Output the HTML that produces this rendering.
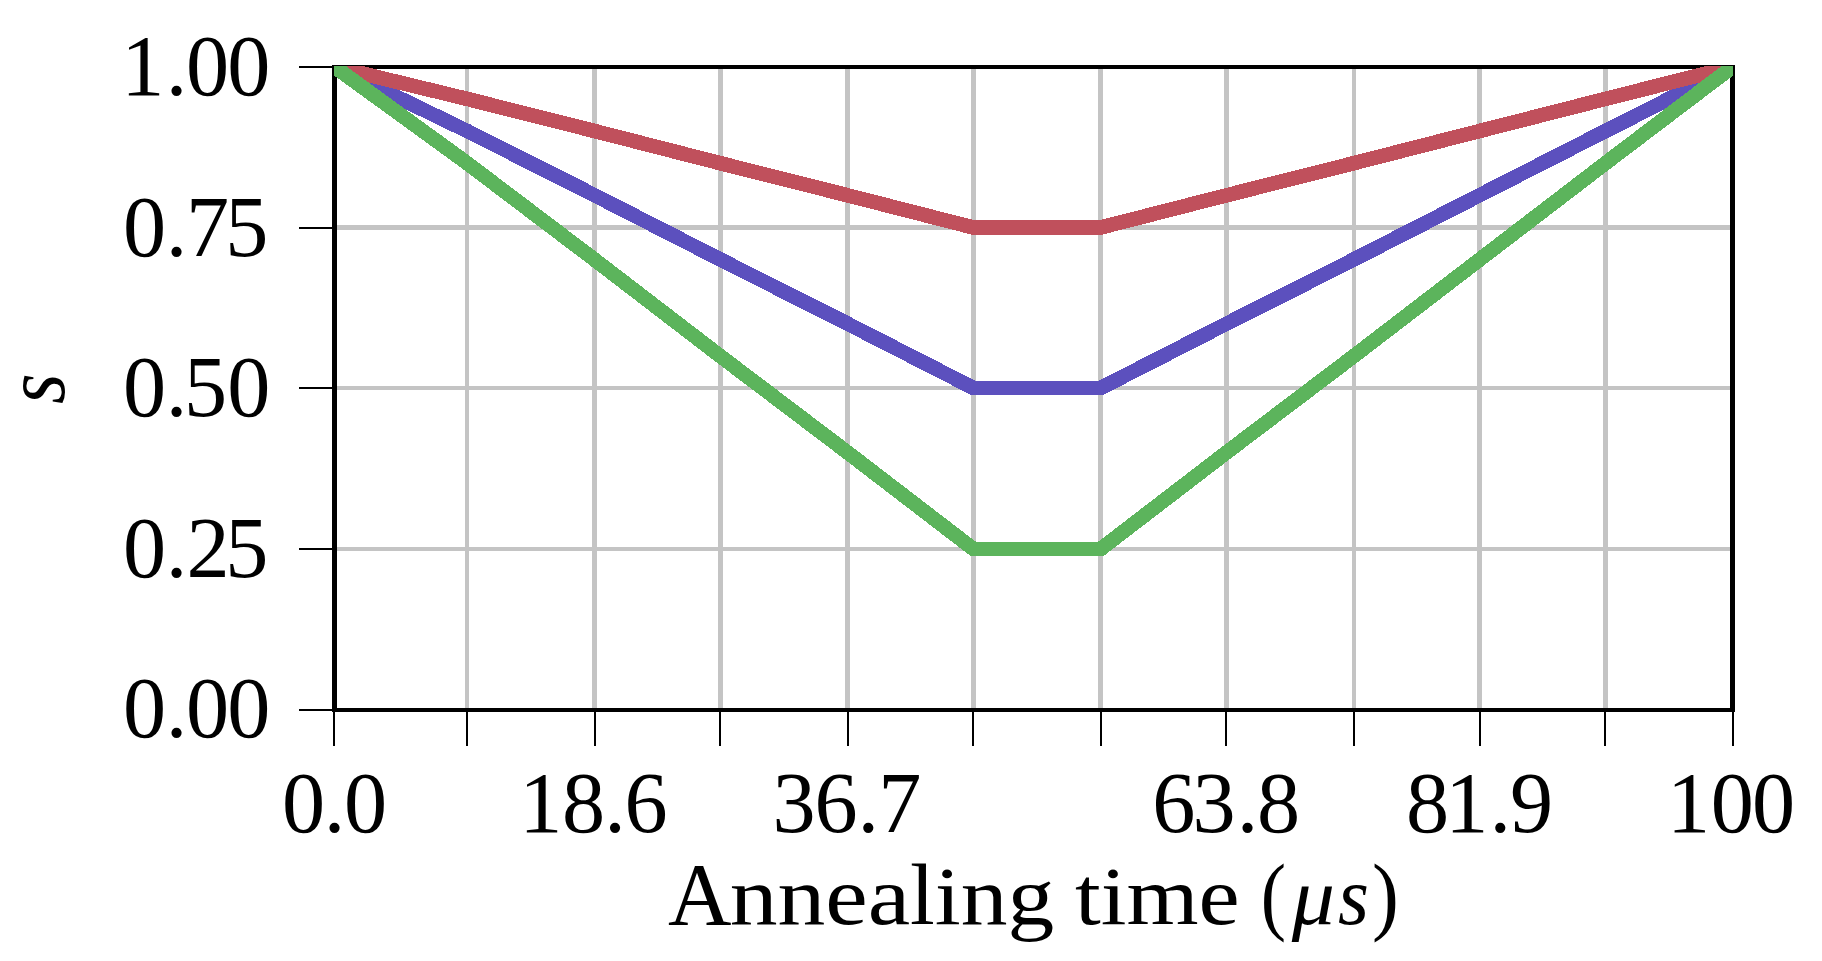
<!DOCTYPE html>
<html lang="en"><head><meta charset="utf-8"><title>Annealing schedule</title>
<style>html,body{margin:0;padding:0;background:#fff}svg{display:block}text{font-family:"Liberation Serif",serif;fill:#000}</style></head><body>
<svg width="1822" height="961" viewBox="0 0 1822 961">
<rect width="1822" height="961" fill="#fff"/>
<g shape-rendering="crispEdges">
<path d="M465 69H469V708H465ZM592 69H597V708H592ZM718 69H723V708H718ZM845 69H850V708H845ZM971 69H976V708H971ZM1098 69H1103V708H1098ZM1224 69H1229V708H1224ZM1352 69H1356V708H1352ZM1477 69H1482V708H1477ZM1603 69H1608V708H1603ZM337 225H1730V230H337ZM337 386H1730V390H337ZM337 547H1730V551H337Z" fill="#c4c4c4"/>
<path d="M332 65H337V712H332ZM1730 65H1735V712H1730ZM332 65H1735V69H332ZM332 708H1735V712H332ZM333 712H335V746H333ZM466 712H468V746H466ZM594 712H596V746H594ZM719 712H721V746H719ZM847 712H849V746H847ZM972 712H974V746H972ZM1100 712H1102V746H1100ZM1225 712H1227V746H1225ZM1353 712H1355V746H1353ZM1479 712H1481V746H1479ZM1604 712H1606V746H1604ZM1732 712H1734V746H1732ZM299 66H332V68H299ZM299 227H332V229H299ZM299 387H332V389H299ZM299 548H332V550H299ZM299 709H332V711H299Z" fill="#000"/>
<defs><clipPath id="ax"><rect x="334" y="66" width="1399" height="644"/></clipPath></defs>
<g clip-path="url(#ax)">
<polyline points="334.4,66.7 467.2,131.0 594.5,195.2 720.3,259.5 847.6,323.7 973.4,388.0 1100.7,388.0 1226.5,323.7 1353.8,259.5 1479.6,195.2 1605.5,131.0 1732.7,66.7" fill="none" stroke="#5c50be" stroke-width="14.6" stroke-linejoin="miter" stroke-linecap="square"/>
<polyline points="334.4,66.7 467.2,98.9 594.5,131.0 720.3,163.2 847.6,195.3 973.4,227.5 1100.7,227.5 1226.5,195.3 1353.8,163.2 1479.6,131.0 1605.5,98.9 1732.7,66.7" fill="none" stroke="#c0505c" stroke-width="14.6" stroke-linejoin="miter" stroke-linecap="square"/>
<polyline points="334.4,66.7 467.2,163.2 594.5,259.6 720.3,356.1 847.6,452.5 973.4,549.0 1100.7,549.0 1226.5,452.5 1353.8,356.1 1479.6,259.6 1605.5,163.2 1732.7,66.7" fill="none" stroke="#5cb45c" stroke-width="14.6" stroke-linejoin="miter" stroke-linecap="square"/>
</g></g>
<text x="121.3 165.8 185.9 227.2" y="95.2" font-size="86.25">1.00</text>
<text x="122.9 165.8 186.1 225.3" y="256.2" font-size="86.25">0.75</text>
<text x="122.9 165.8 184.1 227.2" y="416.3" font-size="86.25">0.50</text>
<text x="122.9 165.8 186.5 225.3" y="577.1" font-size="86.25">0.25</text>
<text x="122.9 165.8 185.9 227.2" y="737.4" font-size="86.25">0.00</text>
<text x="281.9 323.7 344.0" y="832.3" font-size="86.25">0.0</text>
<text x="519.3 562.1 604.2 624.4" y="832.3" font-size="86.25">18.6</text>
<text x="772.4 814.4 857.6 878.3" y="832.3" font-size="86.25">36.7</text>
<text x="1152.3 1192.6 1236.7 1257.0" y="832.3" font-size="86.25">63.8</text>
<text x="1406.0 1445.2 1489.5 1510.0" y="832.3" font-size="86.25">81.9</text>
<text x="1667.1 1710.8 1751.9" y="832.3" font-size="86.25">100</text>
<text y="923.7" font-size="86"><tspan x="667.94" textLength="63.50" lengthAdjust="spacingAndGlyphs" font-size="89.2">A</tspan><tspan x="729.71" textLength="180.40" lengthAdjust="spacingAndGlyphs" font-size="81.5">nnea</tspan><tspan x="910.02" textLength="24.77" lengthAdjust="spacingAndGlyphs" font-size="86.5">l</tspan><tspan x="934.84" textLength="119.55" lengthAdjust="spacingAndGlyphs" font-size="81.5">ing</tspan> <tspan x="1074.99" textLength="164.72" lengthAdjust="spacingAndGlyphs" font-size="81.5">time</tspan> <tspan x="1260.66" textLength="25.28" lengthAdjust="spacingAndGlyphs" font-size="86">(</tspan><tspan x="1291.68" textLength="43.17" lengthAdjust="spacingAndGlyphs" font-size="83" font-style="italic">μ</tspan><tspan x="1337.93" textLength="30.98" lengthAdjust="spacingAndGlyphs" font-size="83" font-style="italic">s</tspan><tspan x="1372.00" textLength="26.84" lengthAdjust="spacingAndGlyphs" font-size="86">)</tspan></text>
<text transform="translate(64.4,403.96) rotate(-90) scale(0.9157,1)" font-size="86" font-style="italic">s</text>
</svg></body></html>
